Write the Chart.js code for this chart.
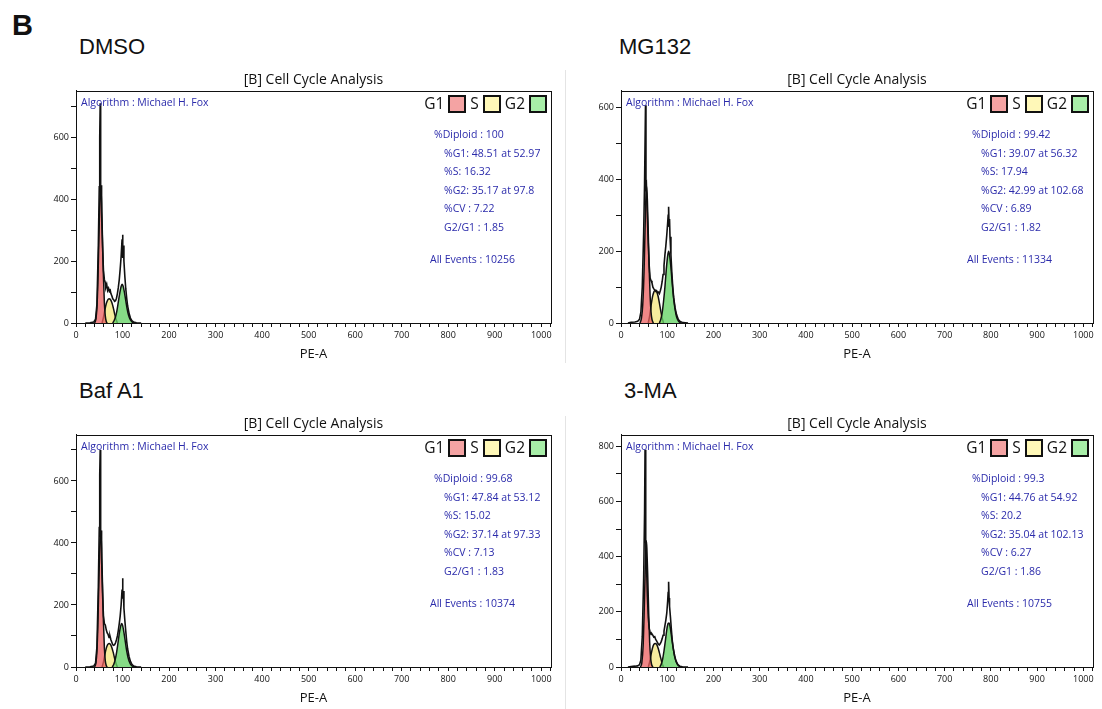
<!DOCTYPE html>
<html>
<head>
<meta charset="utf-8">
<title>Cell Cycle Analysis</title>
<script src="https://cdn.jsdelivr.net/npm/chart.js@4.4.0/dist/chart.umd.min.js"></script>
<style>
    html, body { margin: 0; padding: 0; background: #fff; }
    #figure { position: relative; width: 1102px; height: 709px; overflow: hidden; font-family: "Open Sans", sans-serif; }
    #figure canvas { position: absolute; }
    .label { position: absolute; white-space: nowrap; line-height: 1; }
    .fig-letter { font-family: "Liberation Sans", Arial, sans-serif; font-weight: bold; font-size: 29px; color: #111; }
    .panel-name { font-family: "Liberation Sans", Arial, sans-serif; font-size: 22px; color: #111; }
    .algo, .stat { font-size: 10.5px; color: #2b2bab; }
    .legend { position: absolute; display: flex; align-items: center; font-size: 15.5px; color: #111; line-height: 1; }
    .legend .box { width: 14px; height: 14px; border: 2px solid #111; margin: 0 4px; }
    .divider { position: absolute; width: 1px; background: #e4e4e4; }
</style>
</head>
<body>
<div id="figure"></div>
<script>
// Histogram values: [PE-A, count]
const dmsoRaw = [[20,0],[30,1],[38,3],[42,12],[45,60],[48,250],[50,440],[51,600],[52,710],[53,430],[54,445],[55,360],[57,250],[59,170],[61,140],[63,130],[64,115],[66,125],[68,105],[70,112],[72,100],[73,110],[75,95],[77,88],[79,78],[81,75],[83,70],[85,72],[87,80],[89,95],[91,115],[93,140],[95,175],[97,215],[99,270],[100,285],[101,210],[102,250],[103,200],[105,150],[107,110],[109,80],[111,55],[114,32],[117,16],[120,8],[124,3],[130,1],[140,0]];
const dmsoG1 = [[40,0],[43,15],[45,50],[47,130],[49,260],[51,380],[53,442],[55,390],[57,270],[59,150],[61,65],[63,22],[65,5],[67,0]];
const dmsoS = [[56,0],[59,18],[62,42],[65,62],[68,74],[71,78],[74,76],[77,66],[80,50],[83,30],[86,12],[89,0]];
const dmsoG2 = [[79,0],[82,8],[85,20],[88,40],[91,68],[94,96],[97,118],[99,125],[101,120],[104,100],[107,72],[110,45],[113,25],[117,10],[121,3],[126,0]];

const mg132Raw = [[15,0],[22,2],[30,3],[36,5],[40,10],[43,30],[46,100],[49,250],[51,390],[53,607],[54,380],[55,385],[57,300],[59,220],[61,160],[63,125],[65,118],[67,112],[69,100],[71,95],[73,92],[75,88],[77,90],[79,84],[81,86],[83,82],[85,90],[87,100],[89,115],[91,135],[93,160],[95,190],[97,215],[99,245],[101,280],[102,300],[103,324],[104,270],[105,290],[106,240],[108,190],[110,140],[112,100],[114,70],[117,42],[120,24],[124,10],[128,4],[134,1],[145,0]];
const mg132G1 = [[41,0],[44,12],[47,50],[50,150],[52,260],[54,360],[55,384],[57,345],[59,250],[61,150],[63,75],[65,30],[67,10],[70,0]];
const mg132S = [[59,0],[62,20],[65,48],[68,72],[71,86],[74,91],[77,88],[80,76],[83,56],[86,34],[89,14],[92,0]];
const mg132G2 = [[83,0],[86,10],[89,28],[92,60],[95,100],[98,150],[101,188],[103,200],[105,190],[108,155],[111,108],[114,68],[117,38],[120,18],[124,6],[129,0]];

const bafRaw = [[20,0],[30,1],[38,3],[42,12],[45,65],[48,260],[50,450],[51,620],[52,700],[53,420],[54,440],[55,350],[57,240],[59,165],[61,140],[63,135],[65,120],[67,110],[69,105],[71,95],[73,100],[75,88],[77,80],[79,72],[81,70],[83,72],[85,78],[87,88],[89,100],[91,118],[93,140],[95,165],[97,200],[99,250],[100,286],[101,220],[102,245],[103,190],[105,150],[107,115],[109,82],[111,58],[114,34],[117,18],[120,9],[124,3],[130,1],[140,0]];
const bafG1 = [[40,0],[43,15],[45,52],[47,135],[49,265],[51,385],[53,442],[55,385],[57,265],[59,145],[61,62],[63,20],[65,5],[67,0]];
const bafS = [[56,0],[59,16],[62,40],[65,60],[68,72],[71,76],[74,73],[77,63],[80,47],[83,28],[86,11],[89,0]];
const bafG2 = [[78,0],[81,8],[84,22],[87,45],[90,75],[93,108],[96,132],[98,140],[100,135],[103,112],[106,82],[109,52],[112,30],[116,12],[120,4],[125,0]];

const maRaw = [[15,0],[22,2],[30,3],[36,4],[40,8],[43,25],[46,110],[49,320],[51,560],[52,788],[53,450],[54,460],[55,380],[57,260],[59,180],[61,140],[63,127],[65,118],[67,120],[69,115],[71,108],[73,110],[75,100],[77,95],[79,88],[81,82],[83,80],[85,85],[87,92],[89,102],[91,115],[93,130],[95,150],[97,170],[99,195],[101,240],[102,270],[103,309],[104,250],[105,220],[107,180],[109,135],[111,95],[113,68],[116,40],[119,22],[123,9],[127,3],[133,1],[145,0]];
const maG1 = [[42,0],[45,15],[48,80],[50,190],[52,330],[54,440],[55,457],[56,430],[58,320],[60,190],[62,90],[64,35],[66,10],[69,0]];
const maS = [[59,0],[62,18],[65,45],[68,68],[71,82],[74,85],[77,82],[80,70],[83,52],[86,32],[89,13],[92,0]];
const maG2 = [[84,0],[87,10],[90,28],[93,58],[96,95],[99,135],[102,158],[104,160],[106,148],[109,115],[112,78],[115,48],[118,26],[121,12],[125,4],[130,0]];

// Fit summaries printed in each plot
const dmsoStats = ['%Diploid : 100', '%G1: 48.51 at 52.97', '%S: 16.32', '%G2: 35.17 at 97.8', '%CV : 7.22', 'G2/G1 : 1.85', 'All Events : 10256'];
const mg132Stats = ['%Diploid : 99.42', '%G1: 39.07 at 56.32', '%S: 17.94', '%G2: 42.99 at 102.68', '%CV : 6.89', 'G2/G1 : 1.82', 'All Events : 11334'];
const bafStats = ['%Diploid : 99.68', '%G1: 47.84 at 53.12', '%S: 15.02', '%G2: 37.14 at 97.33', '%CV : 7.13', 'G2/G1 : 1.83', 'All Events : 10374'];
const maStats = ['%Diploid : 99.3', '%G1: 44.76 at 54.92', '%S: 20.2', '%G2: 35.04 at 102.13', '%CV : 6.27', 'G2/G1 : 1.86', 'All Events : 10755'];

const panelNames = ['DMSO', 'MG132', 'Baf A1', '3-MA'];
const yAxisMax = [750, 647, 749, 842];
const xAxisMax = 1021;
const phaseNames = ['G1', 'S', 'G2'];

// Layout in page pixels (chart area of every panel)
const Y_AXIS_W = 46;
const X_AXIS_H = 42;
const TITLE_H = 24.8;
const panelBoxes = [
    { left: 76, right: 551, top: 66, statX: [434, 444, 430], nameX: 79, nameY: 47 },
    { left: 621, right: 1093, top: 66, statX: [972, 981, 967], nameX: 619, nameY: 47 },
    { left: 76, right: 551, top: 410, statX: [434, 444, 430], nameX: 79, nameY: 391 },
    { left: 621, right: 1093, top: 410, statX: [972, 981, 967], nameX: 624, nameY: 391 }
];
const statOffsets = [43.5, 62, 80.5, 99, 117.5, 136, 168.5];

const figure = document.getElementById('figure');
Chart.defaults.font.family = '"Open Sans", sans-serif';
Chart.defaults.color = '#111';

const framePlugin = {
    id: 'frame',
    afterDraw(chart) {
        const { ctx, chartArea: a } = chart;
        ctx.save();
        ctx.strokeStyle = '#111';
        ctx.lineWidth = 1;
        ctx.strokeRect(Math.round(a.left) + 0.5, Math.round(a.top) + 0.5, Math.round(a.right - a.left), Math.round(a.bottom - a.top));
        ctx.restore();
    }
};

function addText(text, x, cy, cls, size) {
    const el = document.createElement('div');
    el.className = 'label ' + cls;
    el.textContent = text;
    el.style.left = x + 'px';
    el.style.top = (cy - size / 2) + 'px';
    figure.appendChild(el);
    return el;
}

function addLegend(right, cy) {
    const el = document.createElement('div');
    el.className = 'legend';
    el.style.right = (1102 - right) + 'px';
    el.style.top = (cy - 9) + 'px';
    const boxColors = ['#f4a3a3', '#fff8b8', '#a8eea8'];
    el.innerHTML = phaseNames.map((p, i) => `<span>${p}</span><span class="box" style="background:${boxColors[i]}"></span>`).join('');
    el.lastChild.style.marginRight = '0';
    figure.appendChild(el);
}

function fitDataset(data, fillColor, order) {
    return {
        data,
        borderColor: '#111',
        borderWidth: 1.5,
        backgroundColor: fillColor,
        fill: 'origin',
        pointRadius: 0,
        cubicInterpolationMode: 'monotone',
        order
    };
}

function drawPanel(index, raw, g1, s, g2, stats) {
    const box = panelBoxes[index];
    const canvas = document.createElement('canvas');
    const left = box.left - Y_AXIS_W;
    const width = box.right + 8 - left;
    const height = 299;
    canvas.width = width;
    canvas.height = height;
    canvas.style.left = left + 'px';
    canvas.style.top = box.top + 'px';
    figure.appendChild(canvas);

    new Chart(canvas, {
        type: 'line',
        data: {
            datasets: [
                { data: raw, borderColor: '#111', borderWidth: 1.6, pointRadius: 0, fill: false, tension: 0, order: 0 },
                fitDataset(g2, 'rgba(100, 210, 100, 0.78)', 1),
                fitDataset(g1, 'rgba(235, 95, 95, 0.75)', 2),
                fitDataset(s, 'rgba(246, 234, 140, 0.85)', 3)
            ]
        },
        options: {
            responsive: false,
            animation: false,
            layout: { padding: { left: 0, right: 8, top: 0, bottom: 0 } },
            plugins: {
                legend: { display: false },
                tooltip: { enabled: false },
                title: {
                    display: true,
                    text: '[B] Cell Cycle Analysis',
                    fullSize: false,
                    color: '#111',
                    font: { size: 14, weight: 'normal' },
                    padding: { top: 6, bottom: 2 }
                }
            },
            scales: {
                x: {
                    type: 'linear',
                    min: 0,
                    max: xAxisMax,
                    afterFit: (scale) => { scale.height = X_AXIS_H; },
                    ticks: {
                        stepSize: 20,
                        includeBounds: false,
                        autoSkip: false,
                        minRotation: 0,
                        maxRotation: 0,
                        padding: 3,
                        font: { size: 9 },
                        callback: (v) => (v % 100 === 0 ? v : '')
                    },
                    grid: { drawOnChartArea: false, tickLength: 4, color: '#111' },
                    border: { color: '#111' },
                    title: { display: true, text: 'PE-A', font: { size: 13 }, padding: { top: 0, bottom: 3 } }
                },
                y: {
                    min: 0,
                    max: yAxisMax[index],
                    afterFit: (scale) => { scale.width = Y_AXIS_W; },
                    ticks: {
                        stepSize: 100,
                        includeBounds: false,
                        autoSkip: false,
                        padding: 2,
                        font: { size: 9 },
                        callback: (v) => (v % 200 === 0 ? v : '')
                    },
                    grid: { drawOnChartArea: false, tickLength: 5, color: '#111' },
                    border: { color: '#111' }
                }
            }
        },
        plugins: [framePlugin]
    });

    // Text printed by the analysis software
    const chartTop = box.top + TITLE_H;
    addText(panelNames[index], box.nameX, box.nameY, 'panel-name', 22);
    addText('Algorithm : Michael H. Fox', box.left + 5, chartTop + 11, 'algo', 10.5);
    addLegend(box.right - 4, chartTop + 13);
    stats.forEach((line, i) => {
        const x = i === 0 ? box.statX[0] : (i === stats.length - 1 ? box.statX[2] : box.statX[1]);
        addText(line, x, chartTop + statOffsets[i], 'stat', 10.5);
    });
}

addText('B', 12, 25, 'fig-letter', 29);

// Faint separators between the left and right panels
[[70, 293], [416, 293]].forEach(([top, h]) => {
    const d = document.createElement('div');
    d.className = 'divider';
    d.style.left = '565px';
    d.style.top = top + 'px';
    d.style.height = h + 'px';
    figure.appendChild(d);
});

drawPanel(0, dmsoRaw, dmsoG1, dmsoS, dmsoG2, dmsoStats);
drawPanel(1, mg132Raw, mg132G1, mg132S, mg132G2, mg132Stats);
drawPanel(2, bafRaw, bafG1, bafS, bafG2, bafStats);
drawPanel(3, maRaw, maG1, maS, maG2, maStats);
</script>
</body>
</html>
